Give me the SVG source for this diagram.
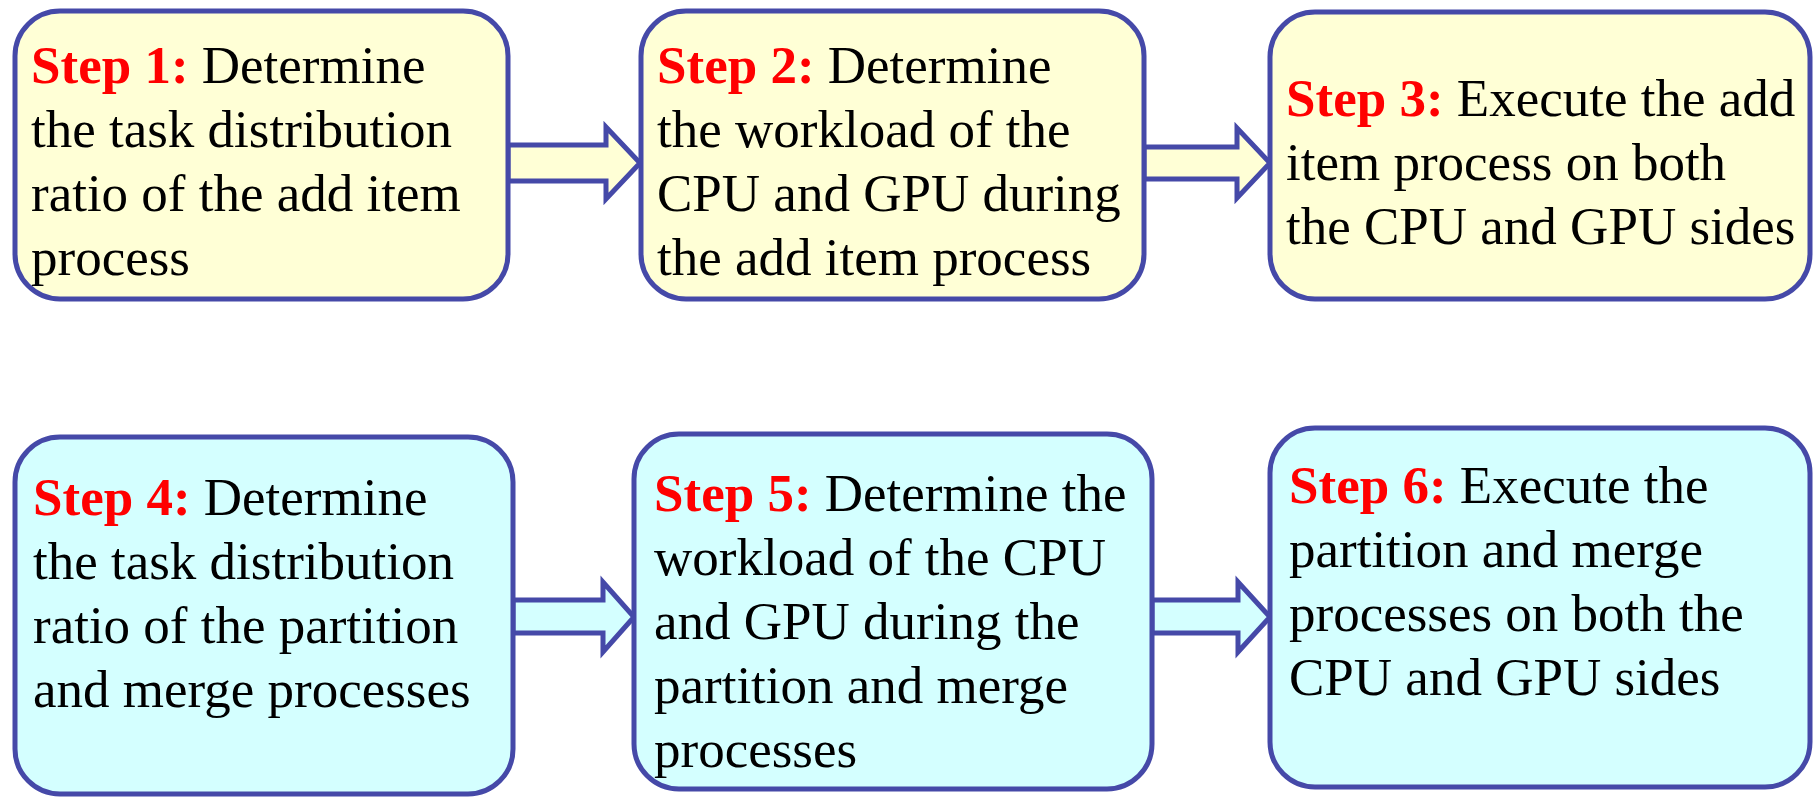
<svg xmlns="http://www.w3.org/2000/svg" width="1814" height="797" viewBox="0 0 1814 797">
  <style>
    .box { stroke: #4549a8; stroke-width: 5; }
    .yel { fill: #ffffd6; }
    .cyan { fill: #d4ffff; }
    .arrow { stroke: #4549a8; stroke-width: 5; stroke-linejoin: miter; }
    text { font-family: "Liberation Serif", "Times New Roman", serif; font-size: 53px; fill: #000; }
    .step { fill: #ff0000; font-weight: bold; }
  </style>
  <rect width="1814" height="797" fill="#ffffff"/>

  <!-- block arrows between steps -->
  <g id="connectors">
    <polygon class="arrow yel" points="508,145 606,145 606,127 640,163 606,199 606,181 508,181"/>
    <polygon class="arrow yel" points="1144,147 1237,147 1237,128 1270,163 1237,198 1237,179 1144,179"/>
    <polygon class="arrow cyan" points="513,600 603,600 603,582 634,617 603,652 603,633 513,633"/>
    <polygon class="arrow cyan" points="1152,600 1238,600 1238,582 1270,617 1238,652 1238,633 1152,633"/>
  </g>

  <g id="step1">
    <rect class="box yel" x="15" y="11" width="493" height="288" rx="45"/>
    <text x="31" y="83"><tspan class="step">Step 1:</tspan> Determine</text>
    <text x="31" y="147">the task distribution</text>
    <text x="31" y="211">ratio of the add item</text>
    <text x="31" y="275">process</text>
  </g>

  <g id="step2">
    <rect class="box yel" x="641" y="11" width="503" height="288" rx="45"/>
    <text x="657" y="83"><tspan class="step">Step 2:</tspan> Determine</text>
    <text x="657" y="147">the workload of the</text>
    <text x="657" y="211">CPU and GPU during</text>
    <text x="657" y="275">the add item process</text>
  </g>

  <g id="step3">
    <rect class="box yel" x="1270" y="12" width="540" height="287" rx="45"/>
    <text x="1286" y="116"><tspan class="step">Step 3:</tspan> Execute the add</text>
    <text x="1286" y="180">item process on both</text>
    <text x="1286" y="244">the CPU and GPU sides</text>
  </g>

  <g id="step4">
    <rect class="box cyan" x="15" y="437" width="498" height="357" rx="45"/>
    <text x="33" y="515"><tspan class="step">Step 4:</tspan> Determine</text>
    <text x="33" y="579">the task distribution</text>
    <text x="33" y="643">ratio of the partition</text>
    <text x="33" y="707">and merge processes</text>
  </g>

  <g id="step5">
    <rect class="box cyan" x="634" y="434" width="518" height="355" rx="45"/>
    <text x="654" y="511"><tspan class="step">Step 5:</tspan> Determine the</text>
    <text x="654" y="575">workload of the CPU</text>
    <text x="654" y="639">and GPU during the</text>
    <text x="654" y="703">partition and merge</text>
    <text x="654" y="767">processes</text>
  </g>

  <g id="step6">
    <rect class="box cyan" x="1270" y="428" width="540" height="359" rx="45"/>
    <text x="1289" y="503"><tspan class="step">Step 6:</tspan> Execute the</text>
    <text x="1289" y="567">partition and merge</text>
    <text x="1289" y="631">processes on both the</text>
    <text x="1289" y="695">CPU and GPU sides</text>
  </g>
</svg>
